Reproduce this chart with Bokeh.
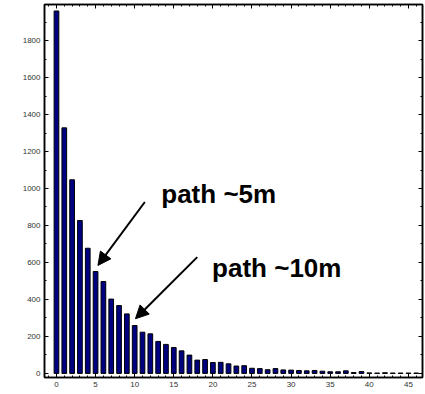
from bokeh.plotting import figure
from bokeh.models import LinearAxis, Range1d, FixedTicker, Arrow, NormalHead, ColumnDataSource
from bokeh.core.properties import value
from bokeh.embed import file_html
from bokeh.resources import INLINE

# data
path_len = list(range(47))
counts = [1960, 1328, 1047, 827, 677, 551, 497, 402, 367, 322,
          259, 223, 214, 173, 157, 140, 122, 99, 72, 75,
          59, 60, 52, 40, 42, 28, 26, 20, 26, 19,
          18, 16, 14, 16, 12, 9, 9, 14, 5, 10,
          3, 2, 4, 2, 2, 2, 2]
x_ticks = [0, 5, 10, 15, 20, 25, 30, 35, 40, 45]
y_ticks = [0, 200, 400, 600, 800, 1000, 1200, 1400, 1600, 1800]

labels = ["path ~5m", "path ~10m"]
label_x = [13.4, 19.9]
label_y = [972, 568]
arrow_x0 = [11.3, 18.0]
arrow_y0 = [927, 629]
arrow_x1 = [5.3, 10.1]
arrow_y1 = [584, 296]

p = figure(width=425, height=394, output_backend="svg", toolbar_location=None,
           x_range=Range1d(-1.53, 46.8), y_range=Range1d(-22, 1995),
           min_border_left=44, min_border_right=3, min_border_top=4, min_border_bottom=17,
           x_axis_location=None, y_axis_location=None)
p.grid.visible = False
p.outline_line_color = "black"
p.outline_line_width = 1.5
p.background_fill_color = "white"
p.border_fill_color = "white"

src = ColumnDataSource(dict(x=path_len, top=counts))
p.vbar(x="x", top="top", bottom=0, width=0.6, source=src,
       fill_color="#000080", line_color="black", line_width=1)

def style_axis(ax, ticks, minor, show_labels):
    ax.ticker = FixedTicker(ticks=ticks, minor_ticks=minor)
    ax.axis_line_color = "black"
    ax.axis_line_width = 1.5
    ax.major_tick_in = 4
    ax.major_tick_out = 0
    ax.minor_tick_in = 2
    ax.minor_tick_out = 0
    ax.major_tick_line_color = "black"
    ax.minor_tick_line_color = "black"
    ax.major_label_text_font = "Liberation Sans"
    ax.major_label_text_font_size = "8px"
    ax.major_label_text_color = "#333333"
    ax.major_label_standoff = 4
    if not show_labels:
        ax.major_label_text_font_size = "0px"
        ax.major_label_text_color = None

x_minor = list(range(-1, 47))
y_minor = list(range(0, 2000, 100))

bx = LinearAxis(); style_axis(bx, x_ticks, x_minor, True)
lx = LinearAxis(); style_axis(lx, y_ticks, y_minor, True)
tx = LinearAxis(); style_axis(tx, x_ticks, x_minor, False)
rx = LinearAxis(); style_axis(rx, y_ticks, y_minor, False)
p.add_layout(bx, "below")
p.add_layout(lx, "left")
p.add_layout(tx, "above")
p.add_layout(rx, "right")

p.text(x=label_x, y=label_y, text=labels, text_font=value("Liberation Sans"),
       text_font_style="bold", text_font_size="26px", text_color="black",
       text_baseline="alphabetic", text_align="left")

for i in range(len(labels)):
    p.add_layout(Arrow(end=NormalHead(size=13, fill_color="black", line_color="black"),
                       x_start=arrow_x0[i], y_start=arrow_y0[i],
                       x_end=arrow_x1[i], y_end=arrow_y1[i],
                       line_color="black", line_width=2))

open("out.html", "w").write(file_html(p, INLINE))
